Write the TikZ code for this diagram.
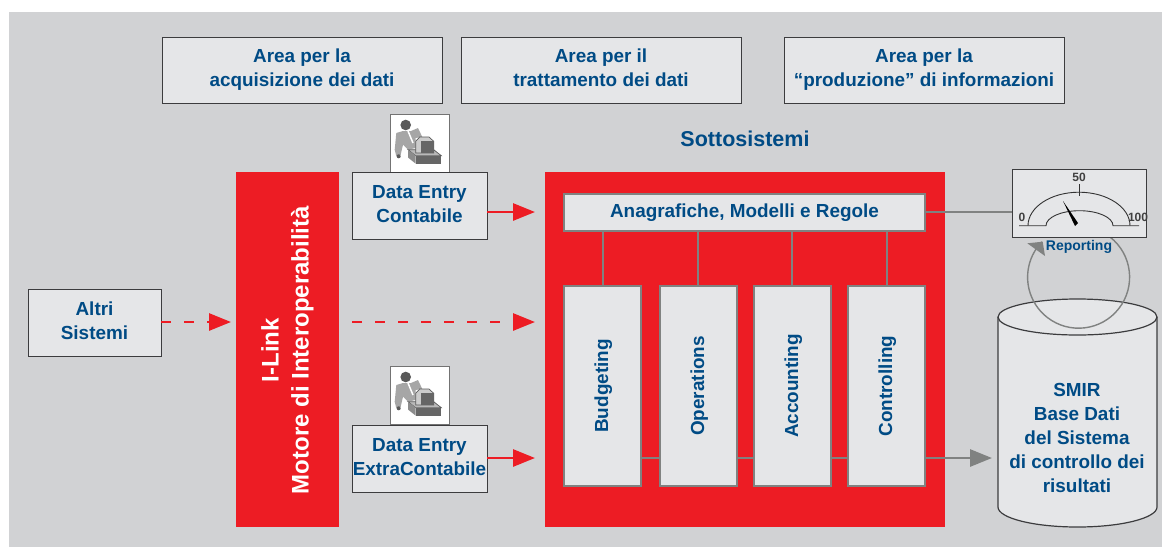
\documentclass[tikz,border=0pt]{standalone}
\usepackage{fontspec}
\setmainfont{Liberation Sans}
\usetikzlibrary{arrows.meta,calc}
\definecolor{bgc}{HTML}{D1D2D4}
\definecolor{boxc}{HTML}{E5E6E8}
\definecolor{redc}{HTML}{ED1C24}
\definecolor{bluec}{HTML}{004B85}
\definecolor{grayc}{HTML}{808281}
\definecolor{edgec}{HTML}{3C3C3E}
\tikzset{
  x=1pt,y=-1pt,
  every node/.style={inner sep=0pt,outer sep=0pt,align=center,text=bluec},
  lbl/.style={font=\fontsize{18.9}{24}\selectfont\bfseries},
  boxn/.style={draw=edgec,line width=.9pt,fill=boxc,lbl,anchor=north west},
  subbox/.style={draw=grayc,line width=1.2pt,fill=boxc,lbl,anchor=north west},
  redarrow/.style={draw=redc,line width=2.8pt,-{Triangle[length=22pt,width=17pt]}},
  redDash/.style={redarrow,dash pattern=on 10pt off 13pt},
  grayline/.style={draw=grayc,line width=2.8pt},
  grayarrow/.style={grayline,-{Triangle[length=22pt,width=17pt]}},
  gaugelbl/.style={font=\fontsize{12}{14}\selectfont\bfseries,text=black!75},
  dataicon/.pic={
    \fill[white,draw=gray!90!black,line width=1pt] (0,0) rectangle (59,58);
    \fill[gray!70] (6.3,19)--(13,17)--(21,17)--(28,14)--(32.3,23)--(25.7,24)--(25.7,34)--(18,35.7)--(13,30.7)--(10.7,40.7)--(6.3,42.3)--(4.7,35.7)--cycle;
    \fill[black!65] (15.7,11) circle (5.3);
    \fill[black!65] (8.7,42.3) circle (2);
    \draw[white,line width=1.5pt] (18,17)--(23,29);
    \fill[gray!55,draw=black!65,line width=.7pt] (18,35.7)--(43.7,35.7)--(51.3,41.7)--(25.7,41.7)--cycle;
    \fill[black!45] (18,35.7)--(25.7,41.7)--(25.7,49.7)--(18,43.5)--cycle;
    \fill[black!60] (25.7,41.7) rectangle (51.3,49.7);
    \fill[gray!40,draw=black!65,line width=.7pt] (25.7,27.3)--(29.7,23)--(39,23)--(43.7,27.3)--(43.7,39)--(25.7,39)--cycle;
    \fill[black!60] (30.7,27.3) rectangle (43.7,39);
  }
}
\begin{document}
\begin{tikzpicture}
\useasboundingbox (0,0) rectangle (1162,547);
\fill[bgc] (9,12) rectangle (1162,547);

% header boxes
\node[boxn,minimum width=280pt,minimum height=66pt] (a1) at (162,37) {\strut Area per la\\acquisizione dei dati\strut};
\node[boxn,minimum width=280pt,minimum height=66pt] (a2) at (461,37) {\strut Area per il\\trattamento dei dati\strut};
\node[boxn,minimum width=280pt,minimum height=66pt] (a3) at (784,37) {\strut Area per la\\“produzione” di informazioni\strut};
\node[font=\fontsize{21.5}{25}\selectfont\bfseries] (title) at (745,139) {Sottosistemi};

% left side
\node[boxn,minimum width=133pt,minimum height=67pt] (altri) at (28,289) {\strut Altri\\Sistemi\strut};
\fill[redc] (236,172) rectangle (339,527);
\node[rotate=90,text=white,font=\fontsize{24}{30}\selectfont\bfseries] (ilink) at (287.5,350) {I-Link\\Motore di Interoperabilità};

% main red block
\fill[redc] (545,172) rectangle (945,527);

% icons and data entry
\pic at (390,114) {dataicon};
\pic at (390,366) {dataicon};
\node[boxn,minimum width=135pt,minimum height=67pt] (de1) at (352,172) {\strut Data Entry\\Contabile\strut};
\node[boxn,minimum width=135pt,minimum height=67pt] (de2) at (352,425) {\strut Data Entry\\ExtraContabile\strut};

% subsystem boxes
\node[subbox,minimum width=361pt,minimum height=37pt] (ana) at (564,194) {Anagrafiche, Modelli e Regole};
\foreach \n/\x/\t in {bud/564/Budgeting,ope/660/Operations,acc/754/Accounting,con/848/Controlling}{
  \node[subbox,minimum width=77pt,minimum height=200pt] (\n) at (\x,286) {};
  \node[rotate=90,lbl] (\n t) at ([xshift=.7pt]\n.center) {\t};
}
\foreach \n/\x in {bud/603,ope/698,acc/792,con/887}{
  \coordinate (t\n) at (\x,231);
  \coordinate (b\n) at (\x,286);
  \draw[grayline] (t\n) -- (b\n);
}
\coordinate (y458) at (0,458);
\draw[grayline] (bud.east |- y458) -- (ope.west |- y458);
\draw[grayline] (ope.east |- y458) -- (acc.west |- y458);
\draw[grayline] (acc.east |- y458) -- (con.west |- y458);

% cylinder
\filldraw[fill=boxc,draw=edgec,line width=1.2pt] (998,317) -- (998,507) arc[start angle=180,end angle=360,x radius=79.5pt,y radius=20pt] -- (1157,317) arc[start angle=0,end angle=180,x radius=79.5pt,y radius=18pt] -- cycle;
\draw[edgec,line width=1.2pt] (998,317) arc[start angle=180,end angle=360,x radius=79.5pt,y radius=18pt];
\node[lbl,minimum width=159pt] (smir) at (1077,440) {\strut SMIR\\Base Dati\\del Sistema\\di controllo dei\\risultati\strut};

% reporting loop
\draw[grayc,line width=1.4pt] (1110,237) arc[start angle=52,end angle=-224,radius=51pt];
\fill[grayc] (1027.3,243.3)--(1042.7,241.7)--(1045,256)--cycle;

% gauge
\node[boxn,minimum width=134pt,minimum height=68pt] (gauge) at (1012,169) {};
\draw[black!80,line width=.9pt] (1019,225.7)--(1046,225.7) arc[start angle=180,end angle=0,x radius=33.5pt,y radius=15pt] -- (1139,225.7);
\draw[black!80,line width=.9pt] (1028,225.7) arc[start angle=180,end angle=0,x radius=51pt,y radius=33.5pt];
\draw[black!80,line width=.9pt] (1079,184)--(1079,196);
\fill[black] (1063,201)--(1078,223)--(1075,226)--cycle;
\node[gaugelbl] (g0) at (1022,217) {0};
\node[gaugelbl] (g50) at (1079,177) {50};
\node[gaugelbl] (g100) at (1138,217) {100};
\node[font=\fontsize{14}{16}\selectfont\bfseries] (rep) at (1079,246.5) {Reporting};

% connectors
\coordinate (in1) at (535,212);
\coordinate (in2) at (535,322);
\coordinate (in3) at (535,458);
\coordinate (mid) at (352,322);
\coordinate (lk) at (231,322);
\coordinate (gin) at (1012,212);
\draw[redarrow] (de1.east |- in1) -- (in1);
\draw[redarrow] (de2.east |- in3) -- (in3);
\draw[redDash] (altri.east |- lk) -- (lk);
\draw[redDash] (mid) -- (in2);
\draw[grayline] (ana.east |- gin) -- (gauge.west |- gin);
\coordinate (cyla) at (992,458);
\draw[grayarrow] (con.east |- y458) -- (cyla);
\end{tikzpicture}
\end{document}
